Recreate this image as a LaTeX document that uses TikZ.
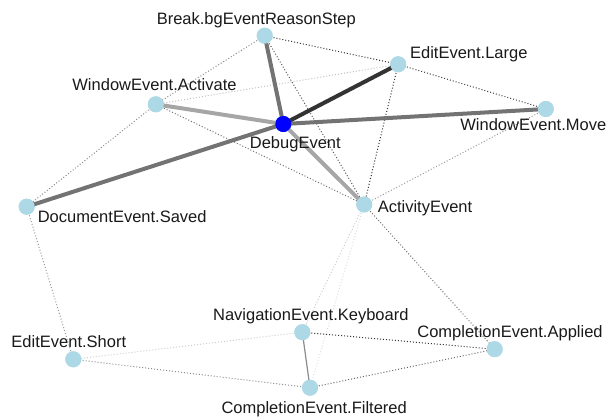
\documentclass[tikz,border=0pt]{standalone}
\usepackage{fontspec}
\setmainfont{Liberation Sans}
\begin{document}
\begin{tikzpicture}[x=1pt,y=-1pt,
  vert/.style={circle,fill=lb,draw=none,minimum size=16pt,inner sep=0pt},
  hub/.style={vert,fill=blue},
  lab/.style={anchor=base,inner sep=0pt,font=\fontsize{16.5}{18}\selectfont,text=black!90},
  strong/.style={line width=4pt},
  weak/.style={line width=1pt,dash pattern=on 1pt off 2pt}]
\definecolor{lb}{HTML}{ADD8E6}
\useasboundingbox (0,0) rectangle (608,418);
% vertices (coordinates first)
\node[vert] (brk) at (264.7,35.7) {};
\node[vert] (lrg) at (398.2,64.3) {};
\node[vert] (act) at (155.8,104.3) {};
\node[hub]  (dbg) at (283.3,124) {};
\node[vert] (mov) at (545.8,109) {};
\node[vert] (sav) at (26.7,206.7) {};
\node[vert] (ace) at (364.2,204.5) {};
\node[vert] (nav) at (302.3,332.2) {};
\node[vert] (app) at (494.7,349.2) {};
\node[vert] (sht) at (73.3,359.3) {};
\node[vert] (fil) at (310,387.7) {};
% edges
\begin{scope}[on background layer/.style={}]
\draw[weak,color=black!80] (brk.center) -- (lrg.center);
\draw[weak,color=black!75] (lrg.center) -- (mov.center);
\draw[weak,color=black!80] (lrg.center) -- (ace.center);
\draw[weak,color=black!65] (brk.center) -- (ace.center);
\draw[weak,color=black!45] (brk.center) -- (act.center);
\draw[weak,color=black!25] (lrg.center) -- (act.center);
\draw[weak,color=black!45] (act.center) -- (sav.center);
\draw[weak,color=black!55] (act.center) -- (ace.center);
\draw[weak,color=black!40] (mov.center) -- (ace.center);
\draw[weak,color=black!40] (sav.center) -- (sht.center);
\draw[weak,color=black!20] (ace.center) -- (nav.center);
\draw[weak,color=black!13] (ace.center) -- (fil.center);
\draw[weak,color=black!55] (ace.center) -- (app.center);
\draw[weak,color=black!80] (nav.center) -- (app.center);
\draw[weak,color=black!20] (nav.center) -- (sht.center);
\draw[weak,color=black!45] (fil.center) -- (sht.center);
\draw[weak,color=black!60] (fil.center) -- (app.center);
\draw[line width=1.2pt,color=black!45] (nav.center) -- (fil.center);
\draw[strong,color=black!35] (dbg.center) -- (act.center);
\draw[strong,color=black!35] (dbg.center) -- (ace.center);
\draw[strong,color=black!55] (dbg.center) -- (brk.center);
\draw[strong,color=black!55] (dbg.center) -- (mov.center);
\draw[strong,color=black!55] (dbg.center) -- (sav.center);
\draw[strong,color=black!80] (dbg.center) -- (lrg.center);
\end{scope}
% redraw vertices on top
\foreach \n/\s in {brk/vert,lrg/vert,act/vert,mov/vert,sav/vert,ace/vert,nav/vert,app/vert,sht/vert,fil/vert,dbg/hub}
  \node[\s] at (\n) {};
% labels
\node[lab] (lbrk) at (256.3,24) {Break.bgEventReasonStep};
\node[lab] (llrg) at (468.8,58.3) {EditEvent.Large};
\node[lab] (lact) at (154.5,90.7) {WindowEvent.Activate};
\node[lab] (ldbg) at (295.3,148.3) {DebugEvent};
\node[lab] (lmov) at (533.3,130.7) {WindowEvent.Move};
\node[lab] (lsav) at (122.2,222.7) {DocumentEvent.Saved};
\node[lab] (lace) at (425,212) {ActivityEvent};
\node[lab] (lnav) at (310.8,320.7) {NavigationEvent.Keyboard};
\node[lab] (lapp) at (510,337.3) {CompletionEvent.Applied};
\node[lab] (lsht) at (68.8,347.7) {EditEvent.Short};
\node[lab] (lfil) at (314.2,413.3) {CompletionEvent.Filtered};
\end{tikzpicture}
\end{document}
